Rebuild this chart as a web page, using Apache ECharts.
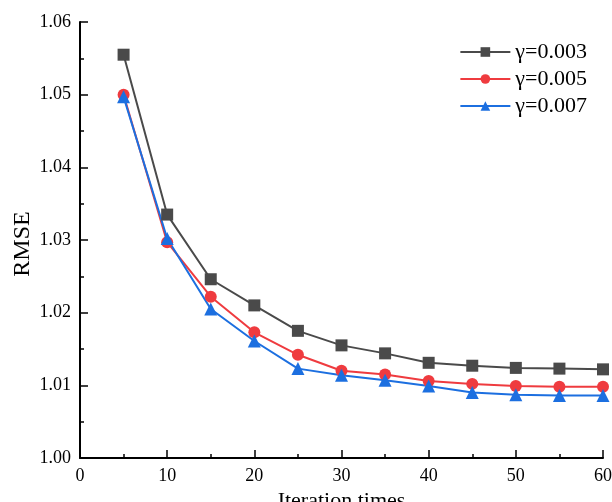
<!DOCTYPE html>
<html>
<head>
<meta charset="utf-8">
<script src="https://cdn.jsdelivr.net/npm/echarts@6/dist/echarts.min.js"></script>
<style>
  html, body { margin: 0; padding: 0; background: #fff; }
  #chart { width: 612px; height: 502px; }
</style>
</head>
<body>
<div id="chart"></div>
<script>
// iteration counts on the x axis
const iterations = [5, 10, 15, 20, 25, 30, 35, 40, 45, 50, 55, 60];
// RMSE per learning rate
const rmse003 = [1.0555, 1.0335, 1.0246, 1.0210, 1.0175, 1.0155, 1.0144, 1.0131, 1.0127, 1.0124, 1.0123, 1.0122];
const rmse005 = [1.0500, 1.0297, 1.0222, 1.0173, 1.0142, 1.0120, 1.0115, 1.0106, 1.0102, 1.0099, 1.0098, 1.0098];
const rmse007 = [1.0497, 1.0302, 1.0205, 1.0161, 1.0123, 1.0114, 1.0107, 1.0099, 1.0090, 1.0087, 1.0086, 1.0086];
const seriesNames = ['γ=0.003', 'γ=0.005', 'γ=0.007'];

const font = 'Liberation Serif';
const pair = arr => arr.map((v, i) => [iterations[i], v]);

function lineSeries(name, values, color, symbol, size) {
  return {
    name: name,
    type: 'line',
    data: pair(values),
    symbol: symbol,
    symbolSize: size,
    itemStyle: { color: color },
    lineStyle: { color: color, width: 2 },
    emphasis: { disabled: true }
  };
}

const chart = echarts.init(document.getElementById('chart'));
chart.setOption({
  animation: false,
  backgroundColor: '#fff',
  grid: { left: 80, top: 22, right: 9, bottom: 44, containLabel: false, outerBoundsMode: 'none' },
  legend: {
    right: 20,
    top: 36,
    orient: 'vertical',
    itemWidth: 50,
    itemHeight: 12,
    itemGap: 5,
    textStyle: { fontFamily: font, fontSize: 22, color: '#000' },
    data: seriesNames
  },
  // y axis title drawn separately so it sits where the original has it
  graphic: [{
    type: 'text',
    x: 23,
    y: 244,
    rotation: Math.PI / 2,
    style: {
      text: 'RMSE',
      font: '24px "Liberation Serif"',
      fill: '#000',
      align: 'center',
      verticalAlign: 'middle'
    }
  }],
  xAxis: {
    type: 'value',
    min: 0, max: 60, interval: 10,
    name: 'Iteration times',
    nameLocation: 'middle',
    nameGap: 25,
    nameTextStyle: { fontFamily: font, fontSize: 22, color: '#000' },
    axisLine: { lineStyle: { color: '#000', width: 2 } },
    axisTick: { inside: true, length: 8, lineStyle: { color: '#000', width: 1.5 } },
    minorTick: { show: true, splitNumber: 2, length: 4, lineStyle: { color: '#000', width: 1.5 } },
    axisLabel: { fontFamily: font, fontSize: 18, color: '#000', margin: 9 },
    splitLine: { show: false }
  },
  yAxis: {
    type: 'value',
    min: 1.00, max: 1.06, interval: 0.01,
    axisLine: { show: true, lineStyle: { color: '#000', width: 2 } },
    axisTick: { show: true, inside: true, length: 8, lineStyle: { color: '#000', width: 1.5 } },
    minorTick: { show: true, splitNumber: 2, length: 4, lineStyle: { color: '#000', width: 1.5 } },
    axisLabel: {
      fontFamily: font, fontSize: 18, color: '#000', margin: 9,
      formatter: v => v.toFixed(2)
    },
    splitLine: { show: false }
  },
  series: [
    lineSeries(seriesNames[0], rmse003, '#4a4a4a', 'rect', 12),
    lineSeries(seriesNames[1], rmse005, '#ef3b3f', 'circle', 12),
    lineSeries(seriesNames[2], rmse007, '#1c6fe0', 'triangle', 13)
  ]
});
</script>
</body>
</html>
